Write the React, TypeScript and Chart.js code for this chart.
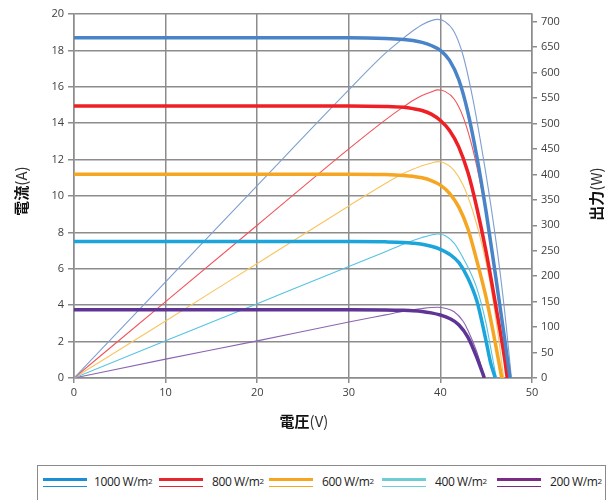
import React, { useEffect, useRef } from "react";
import { Chart, registerables } from "chart.js";

Chart.register(...registerables);

// ---- data ----
const X_TICK_MIN = 0;
const X_TICK_MAX = 50;
const LEFT_MAX = 20;
const RIGHT_TICKS = [0, 50, 100, 150, 200, 250, 300, 350, 400, 450, 500, 550, 600, 650, 700];
const RIGHT_MAX = 715;

const SERIES_LABELS = ["1000 W/m", "800 W/m", "600 W/m", "400 W/m", "200 W/m"];

// I-V curves (voltage V, current A)
const IV_V_1000 = [0, 10, 20, 30, 34, 36, 37, 38, 39, 40, 41, 42, 43, 44, 45, 46, 47, 47.6];
const IV_I_1000 = [18.7, 18.7, 18.7, 18.7, 18.66, 18.6, 18.54, 18.44, 18.27, 18.0, 17.45, 16.4, 14.6, 12.1, 9.1, 5.7, 2.2, 0];
const IV_V_800 = [0, 10, 20, 30, 34, 36, 37, 38, 39, 40, 41, 42, 43, 44, 45, 46, 47, 47.3];
const IV_I_800 = [14.95, 14.95, 14.95, 14.95, 14.92, 14.87, 14.8, 14.7, 14.5, 14.15, 13.6, 12.7, 11.3, 9.3, 6.9, 4.1, 1.1, 0];
const IV_V_600 = [0, 10, 20, 30, 34, 36, 37, 38, 39, 40, 41, 42, 43, 44, 45, 46, 46.7];
const IV_I_600 = [11.2, 11.2, 11.2, 11.2, 11.18, 11.13, 11.08, 11.0, 10.85, 10.6, 10.15, 9.4, 8.2, 6.4, 4.4, 1.9, 0];
const IV_V_400 = [0, 10, 20, 30, 34, 36, 37, 38, 39, 40, 41, 42, 43, 44, 45, 45.5, 46];
const IV_I_400 = [7.5, 7.5, 7.5, 7.5, 7.48, 7.45, 7.41, 7.35, 7.24, 7.07, 6.8, 6.35, 5.5, 4.2, 2.0, 0.8, 0];
const IV_V_200 = [0, 10, 20, 30, 34, 36, 37, 38, 39, 40, 41, 42, 43, 44, 44.8];
const IV_I_200 = [3.75, 3.75, 3.75, 3.75, 3.74, 3.72, 3.7, 3.66, 3.58, 3.46, 3.27, 2.93, 2.25, 1.1, 0];

// P-V curves (voltage V, power W)
const PV_V_1000 = [0, 10, 20, 30, 34, 36, 37, 38, 39, 39.7, 40.5, 41.5, 42.5, 43.5, 44.5, 45.5, 46.5, 47.2, 47.75];
const PV_P_1000 = [0, 189, 378, 566, 638, 668, 682, 694, 702, 704.5, 700, 680, 632, 552, 452, 340, 210, 100, 0];
const PV_V_800 = [0, 10, 20, 30, 34, 36, 37, 38, 39, 39.7, 40.5, 41.5, 42.5, 43.5, 44.5, 45.5, 46.5, 47.4];
const PV_P_800 = [0, 150, 300, 450, 507, 533, 545, 555, 562, 566, 563, 548, 512, 452, 370, 270, 145, 0];
const PV_V_600 = [0, 10, 20, 30, 34, 36, 37, 38, 39, 39.7, 40.5, 41.5, 42.5, 43.5, 44.5, 45.5, 46.3, 46.9];
const PV_P_600 = [0, 112, 225, 338, 382, 402, 410, 417, 422, 425, 422, 408, 378, 330, 265, 180, 85, 0];
const PV_V_400 = [0, 10, 20, 30, 34, 36, 37, 38, 39, 39.7, 40.5, 41.5, 42.5, 43, 44, 45, 45.5, 46.1];
const PV_P_400 = [0, 73, 146, 219, 248, 263, 270, 276, 281, 283, 280, 265, 235, 218, 175, 106, 58, 0];
const PV_V_200 = [0, 10, 20, 30, 34, 36, 37, 38, 39, 39.7, 40.5, 41.5, 42.5, 43, 44, 44.8];
const PV_P_200 = [0, 37, 73, 110, 124, 131, 134, 136.5, 138.5, 139, 137, 130, 111, 94, 50, 0];

const X_TITLE = ["電圧", "(V)"];
const Y_TITLE = ["電流", "(A)"];
const Y2_TITLE = ["出力", "(W)"];

// ---- styles ----
const IV_COLORS = ["#4a84c8", "#ee2026", "#f5a623", "#1ba5db", "#5e3594"];
const PV_COLORS = ["#7f9fd0", "#f0545a", "#f7c560", "#55c3e3", "#8a66b0"];
const LEGEND_COLORS = ["#1a8fd6", "#e8242c", "#f7a521", "#6ccdd5", "#7b2b86"];
const LEGEND_LEFT = [5, 121, 231, 344, 459];
const GRID = "#8c8c8c";
const TICK_FONT = { family: "'Open Sans', sans-serif", size: 11 };
const TITLE_FAMILY = "'Noto Sans CJK JP', sans-serif";

const pts = (xs: number[], ys: number[]) => xs.map((x, i) => ({ x, y: ys[i] }));

const IV_SETS = [
  pts(IV_V_1000, IV_I_1000),
  pts(IV_V_800, IV_I_800),
  pts(IV_V_600, IV_I_600),
  pts(IV_V_400, IV_I_400),
  pts(IV_V_200, IV_I_200),
];
const PV_SETS = [
  pts(PV_V_1000, PV_P_1000),
  pts(PV_V_800, PV_P_800),
  pts(PV_V_600, PV_P_600),
  pts(PV_V_400, PV_P_400),
  pts(PV_V_200, PV_P_200),
];

function drawTitle(ctx: CanvasRenderingContext2D, parts: string[], x: number, y: number, angle: number) {
  ctx.save();
  ctx.translate(x, y);
  ctx.rotate(angle);
  ctx.fillStyle = "#111";
  ctx.textBaseline = "middle";
  ctx.textAlign = "left";
  const boldFont = `bold 15px ${TITLE_FAMILY}`;
  const normFont = `15px ${TITLE_FAMILY}`;
  ctx.font = boldFont;
  const w1 = ctx.measureText(parts[0]).width;
  ctx.font = normFont;
  const w2 = ctx.measureText(parts[1]).width;
  const start = -(w1 + w2) / 2;
  ctx.font = boldFont;
  ctx.fillText(parts[0], start, 0);
  ctx.font = normFont;
  ctx.fillStyle = "#333";
  ctx.fillText(parts[1], start + w1, 0);
  ctx.restore();
}

const titlePlugin = {
  id: "axisTitlesCustom",
  afterDraw(chart: any) {
    const ctx = chart.ctx as CanvasRenderingContext2D;
    drawTitle(ctx, X_TITLE, 304, 421, 0);
    drawTitle(ctx, Y_TITLE, 21, 191, -Math.PI / 2);
    drawTitle(ctx, Y2_TITLE, 596, 194, -Math.PI / 2);
  },
};

export default function App() {
  const ref = useRef<HTMLCanvasElement | null>(null);

  useEffect(() => {
    if (!ref.current) return;
    const datasets: any[] = [];
    IV_SETS.forEach((d, i) =>
      datasets.push({
        label: SERIES_LABELS[i] + " I",
        data: d,
        yAxisID: "y",
        borderColor: IV_COLORS[i],
        borderWidth: 3.5,
        pointRadius: 0,
        cubicInterpolationMode: "monotone",
        fill: false,
      })
    );
    PV_SETS.forEach((d, i) =>
      datasets.push({
        label: SERIES_LABELS[i] + " P",
        data: d,
        yAxisID: "y2",
        borderColor: PV_COLORS[i],
        borderWidth: 1.1,
        pointRadius: 0,
        cubicInterpolationMode: "monotone",
        fill: false,
      })
    );

    const chart = new Chart(ref.current, {
      type: "line",
      data: { datasets },
      options: {
        responsive: false,
        animation: false,
        events: [],
        layout: { padding: { top: 14, left: 0, right: 0, bottom: 0 } },
        plugins: { legend: { display: false }, tooltip: { enabled: false } },
        scales: {
          x: {
            type: "linear",
            min: X_TICK_MIN,
            max: X_TICK_MAX,
            ticks: { stepSize: 10, font: TICK_FONT, color: "#404040", padding: 3, maxRotation: 0 },
            grid: { color: GRID, lineWidth: 1.5, tickLength: 5 },
            border: { color: GRID, width: 1.5 },
            afterFit: (s: any) => {
              s.height = 67;
            },
          },
          y: {
            position: "left",
            min: 0,
            max: LEFT_MAX,
            ticks: { stepSize: 2, font: TICK_FONT, color: "#404040", padding: 4 },
            grid: { color: GRID, lineWidth: 1.5, tickLength: 6 },
            border: { color: GRID, width: 1.5 },
            afterFit: (s: any) => {
              s.width = 74;
            },
          },
          y2: {
            position: "right",
            min: 0,
            max: RIGHT_MAX,
            ticks: { font: TICK_FONT, color: "#404040", padding: 4, autoSkip: false },
            grid: { drawOnChartArea: false, color: GRID, lineWidth: 1.5, tickLength: 5 },
            border: { color: GRID, width: 1.5 },
            afterBuildTicks: (s: any) => {
              s.ticks = RIGHT_TICKS.map((v) => ({ value: v }));
            },
            afterFit: (s: any) => {
              s.width = 82;
            },
          },
        },
      } as any,
      plugins: [titlePlugin],
    });
    return () => chart.destroy();
  }, []);

  return (
    <div
      style={{
        position: "fixed",
        left: 0,
        top: 0,
        width: 614,
        height: 500,
        overflow: "hidden",
        background: "#fff",
      }}
    >
      <canvas ref={ref} width={614} height={445} style={{ position: "absolute", left: 0, top: 0, width: 614, height: 445 }} />
      <div
        style={{
          position: "absolute",
          left: 37,
          top: 465,
          width: 569,
          height: 45,
          border: "1px solid #8a8a8a",
          boxSizing: "border-box",
          fontFamily: "'Open Sans', sans-serif",
          fontSize: 12,
          color: "#222",
        }}
      >
        {SERIES_LABELS.map((lab, i) => (
          <div key={lab} style={{ position: "absolute", left: LEGEND_LEFT[i], top: 0, height: 40 }}>
            <div style={{ position: "absolute", left: 0, top: 11.5, width: 44, height: 3.5, background: LEGEND_COLORS[i] }} />
            <div style={{ position: "absolute", left: 0, top: 19.5, width: 44, height: 1.6, background: LEGEND_COLORS[i] }} />
            <div
              style={{
                position: "absolute",
                left: i === 0 ? 51 : 53,
                top: 8,
                lineHeight: "16px",
                whiteSpace: "nowrap",
                letterSpacing: -0.4,
              }}
            >
              {lab}
              <sup style={{ fontSize: 8, verticalAlign: "top", position: "relative", top: -1 }}>2</sup>
            </div>
          </div>
        ))}
      </div>
    </div>
  );
}
